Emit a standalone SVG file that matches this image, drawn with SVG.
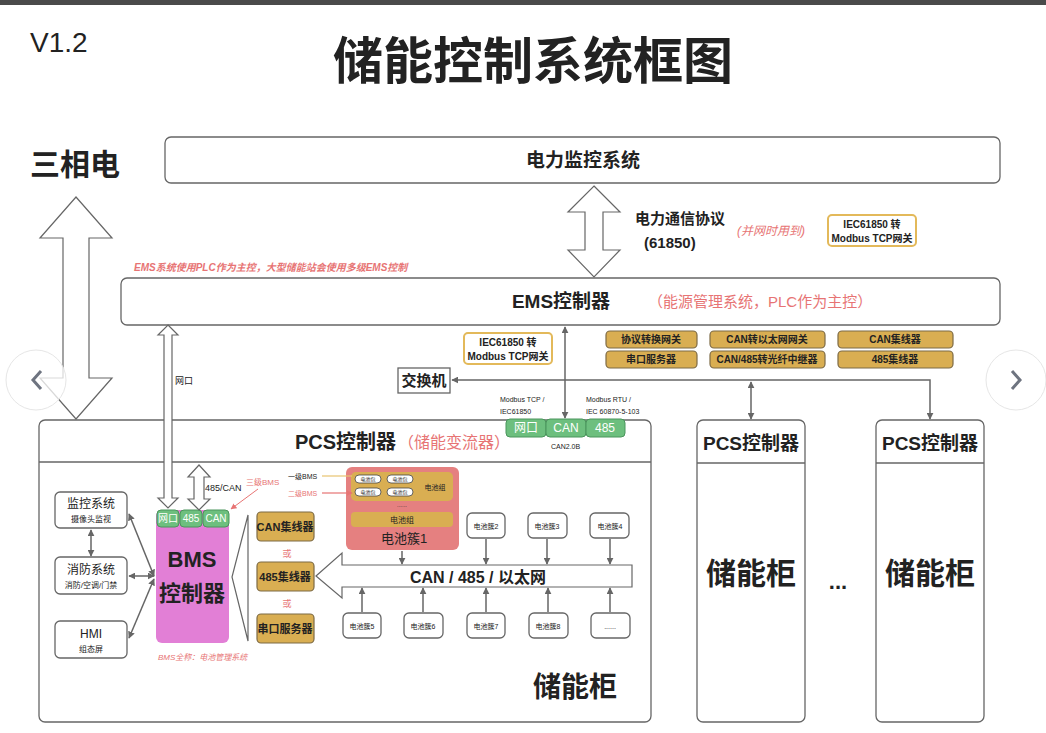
<svg xmlns="http://www.w3.org/2000/svg" width="1046" height="733" viewBox="0 0 1046 733">
<style>
text{font-family:"Liberation Sans","Noto Sans CJK SC",sans-serif;fill:#222}
.b{font-weight:bold}
.red{fill:#e77474}
.it{font-style:italic}
.box{fill:#fff;stroke:#666;stroke-width:1.3}
.gold{fill:#d9ae52;stroke:#7d6a45;stroke-width:1.2}
.green{fill:#6dbf7e;stroke:#4b955c;stroke-width:1}
.hollow{fill:#fff;stroke:#666;stroke-width:1.2}
.ln{stroke:#666;stroke-width:1.5;fill:none}
.tw{fill:#fff}
</style>
<defs>
<marker id="ah" viewBox="0 0 10 10" refX="9" refY="5" markerWidth="7" markerHeight="7" orient="auto-start-reverse" markerUnits="userSpaceOnUse"><path d="M0,0 L10,5 L0,10 z" fill="#666"/></marker>
<marker id="ahr" viewBox="0 0 10 10" refX="9" refY="5" markerWidth="6" markerHeight="6" orient="auto" markerUnits="userSpaceOnUse"><path d="M0,0 L10,5 L0,10 z" fill="#e77474"/></marker>
</defs>
<rect x="0" y="0" width="1046" height="733" fill="#fff"/>
<rect x="0" y="0" width="1046" height="5" fill="#4a4a4a"/>

<g id="header">
<text x="30" y="52" font-size="28" fill="#333">V1.2</text>
<text x="533" y="79" font-size="50" class="b" text-anchor="middle">储能控制系统框图</text>
<text x="30" y="175" font-size="30" class="b">三相电</text>
</g>

<g id="power-monitor">
<rect x="165" y="137" width="835" height="46" rx="6" class="box"/>
<text x="583" y="167" font-size="19" class="b" text-anchor="middle">电力监控系统</text>
</g>

<g id="ems">
<text x="134" y="271" font-size="10" class="red it b">EMS系统使用PLC作为主控，大型储能站会使用多级EMS控制</text>
<rect x="121" y="278" width="879" height="47" rx="6" class="box"/>
<text x="561" y="308" font-size="19" class="b" text-anchor="middle">EMS控制器</text>
<text x="648" y="307" font-size="15" class="red">（能源管理系统，PLC作为主控）</text>
</g>

<g id="protocol">
<text x="635" y="224" font-size="15" class="b">电力通信协议</text>
<text x="644" y="248" font-size="15" class="b">(61850)</text>
<text x="737" y="235" font-size="12" class="red it">(并网时用到)</text>
<rect x="828" y="215" width="88" height="31" rx="4" fill="#fff" stroke="#e3b95a" stroke-width="2"/>
<text x="872" y="228" font-size="10" class="b" text-anchor="middle">IEC61850 转</text>
<text x="872" y="242" font-size="10" class="b" text-anchor="middle">Modbus TCP网关</text>
</g>

<g id="gateways">
<rect x="464" y="333" width="88" height="31" rx="4" fill="#fff" stroke="#e3b95a" stroke-width="2"/>
<text x="508" y="346" font-size="10" class="b" text-anchor="middle">IEC61850 转</text>
<text x="508" y="360" font-size="10" class="b" text-anchor="middle">Modbus TCP网关</text>
<rect x="606" y="331" width="91" height="17" rx="4" class="gold"/>
<text x="651" y="343" font-size="10" class="b" text-anchor="middle">协议转换网关</text>
<rect x="710" y="331" width="115" height="17" rx="4" class="gold"/>
<text x="767" y="343" font-size="10" class="b" text-anchor="middle">CAN转以太网网关</text>
<rect x="838" y="331" width="115" height="17" rx="4" class="gold"/>
<text x="895" y="343" font-size="10" class="b" text-anchor="middle">CAN集线器</text>
<rect x="606" y="351" width="91" height="17" rx="4" class="gold"/>
<text x="651" y="363" font-size="10" class="b" text-anchor="middle">串口服务器</text>
<rect x="710" y="351" width="115" height="17" rx="4" class="gold"/>
<text x="767" y="363" font-size="10" class="b" text-anchor="middle">CAN/485转光纤中继器</text>
<rect x="838" y="351" width="115" height="17" rx="4" class="gold"/>
<text x="895" y="363" font-size="10" class="b" text-anchor="middle">485集线器</text>
</g>

<g id="switch">
<rect x="398" y="368" width="52" height="25" class="box" stroke-width="1.5"/>
<text x="424" y="386" font-size="15" class="b" text-anchor="middle">交换机</text>
</g>

<g id="pcs-main">
<rect x="39" y="420" width="612" height="302" rx="6" class="box"/>
<line x1="39" y1="462" x2="651" y2="462" stroke="#666" stroke-width="1.3"/>
<text x="295" y="449" font-size="20" class="b">PCS控制器</text>
<text x="398" y="448" font-size="16" class="red">（储能变流器）</text>
<rect x="506" y="419" width="40" height="18" rx="4" class="green"/>
<text x="526" y="432" font-size="12" class="tw" text-anchor="middle">网口</text>
<rect x="546" y="419" width="40" height="18" rx="4" class="green"/>
<text x="566" y="432" font-size="12" class="tw" text-anchor="middle">CAN</text>
<rect x="586" y="419" width="39" height="18" rx="4" class="green"/>
<text x="605" y="432" font-size="12" class="tw" text-anchor="middle">485</text>
<text x="500" y="402" font-size="7">Modbus TCP /</text>
<text x="500" y="414" font-size="7">IEC61850</text>
<text x="586" y="402" font-size="7">Modbus RTU /</text>
<text x="586" y="414" font-size="7">IEC 60870-5-103</text>
<text x="551" y="449" font-size="7">CAN2.0B</text>
<text x="575" y="697" font-size="28" class="b" text-anchor="middle">储能柜</text>
</g>

<g id="monitor">
<rect x="55" y="492" width="72" height="36" rx="5" class="box"/>
<text x="91" y="508" font-size="12" text-anchor="middle">监控系统</text>
<text x="91" y="522" font-size="8" text-anchor="middle">摄像头监视</text>
</g>
<g id="fire">
<rect x="55" y="557" width="72" height="37" rx="5" class="box"/>
<text x="91" y="574" font-size="12" text-anchor="middle">消防系统</text>
<text x="91" y="588" font-size="8" text-anchor="middle">消防/空调/门禁</text>
</g>
<g id="hmi">
<rect x="55" y="621" width="72" height="37" rx="5" class="box"/>
<text x="91" y="638" font-size="12" text-anchor="middle">HMI</text>
<text x="91" y="652" font-size="8" text-anchor="middle">组态屏</text>
</g>

<g id="bms">
<rect x="156" y="510" width="73" height="133" rx="6" fill="#e27fd6"/>
<rect x="157" y="510" width="22" height="17" rx="4" class="green"/>
<text x="168" y="522" font-size="10" class="tw" text-anchor="middle">网口</text>
<rect x="180" y="510" width="22" height="17" rx="4" class="green"/>
<text x="191" y="522" font-size="10" class="tw" text-anchor="middle">485</text>
<rect x="203" y="510" width="26" height="17" rx="4" class="green"/>
<text x="216" y="522" font-size="10" class="tw" text-anchor="middle">CAN</text>
<text x="192" y="567" font-size="22" class="b" text-anchor="middle">BMS</text>
<text x="192" y="601" font-size="22" class="b" text-anchor="middle">控制器</text>
<text x="158" y="660" font-size="8" class="red it">BMS全称：电池管理系统</text>
<text x="246" y="485" font-size="8" class="red">三级BMS</text>
</g>

<g id="hubs">
<rect x="257" y="512" width="57" height="29" rx="4" class="gold"/>
<text x="285" y="531" font-size="11" class="b" text-anchor="middle">CAN集线器</text>
<text x="287" y="557" font-size="9" class="red" text-anchor="middle">或</text>
<rect x="257" y="562" width="57" height="29" rx="4" class="gold"/>
<text x="285" y="581" font-size="11" class="b" text-anchor="middle">485集线器</text>
<text x="287" y="607" font-size="9" class="red" text-anchor="middle">或</text>
<rect x="257" y="614" width="57" height="29" rx="4" class="gold"/>
<text x="285" y="633" font-size="11" class="b" text-anchor="middle">串口服务器</text>
</g>

<g id="cluster1">
<rect x="346" y="467" width="113" height="83" rx="6" fill="#e58080"/>
<rect x="351" y="472" width="102" height="29" rx="5" fill="#d9ae52"/>
<rect x="355" y="475" width="26" height="8" rx="4" fill="#fff" stroke="#444" stroke-width="0.8"/>
<rect x="387" y="475" width="26" height="8" rx="4" fill="#fff" stroke="#444" stroke-width="0.8"/>
<rect x="355" y="488" width="26" height="8" rx="4" fill="#fff" stroke="#444" stroke-width="0.8"/>
<rect x="387" y="488" width="26" height="8" rx="4" fill="#fff" stroke="#444" stroke-width="0.8"/>
<text x="368" y="481" font-size="5" text-anchor="middle">电池包</text>
<text x="400" y="481" font-size="5" text-anchor="middle">电池包</text>
<text x="368" y="494" font-size="5" text-anchor="middle">电池包</text>
<text x="400" y="494" font-size="5" text-anchor="middle">电池包</text>
<text x="435" y="490" font-size="7" text-anchor="middle">电池组</text>
<text x="402" y="507" font-size="6" text-anchor="middle">......</text>
<rect x="351" y="512" width="102" height="15" rx="4" fill="#d9ae52"/>
<text x="402" y="523" font-size="8" text-anchor="middle">电池组</text>
<text x="404" y="543" font-size="13" text-anchor="middle">电池簇1</text>
<text x="288" y="479" font-size="7" fill="#d9ae52">一级BMS</text>
<line x1="322" y1="476" x2="352" y2="476" stroke="#e8c470" stroke-width="1.2"/>
<text x="288" y="496" font-size="7" class="red">二级BMS</text>
<line x1="322" y1="493" x2="352" y2="493" stroke="#e77474" stroke-width="1.2" marker-end="url(#ahr)"/>
</g>

<g id="clusters">
<rect x="467" y="513" width="38" height="25" rx="5" class="box"/>
<text x="486" y="529" font-size="7" text-anchor="middle">电池簇2</text>
<rect x="528" y="513" width="39" height="25" rx="5" class="box"/>
<text x="547" y="529" font-size="7" text-anchor="middle">电池簇3</text>
<rect x="590" y="513" width="39" height="25" rx="5" class="box"/>
<text x="610" y="529" font-size="7" text-anchor="middle">电池簇4</text>
<rect x="343" y="613" width="38" height="25" rx="5" class="box"/>
<text x="362" y="629" font-size="7" text-anchor="middle">电池簇5</text>
<rect x="404" y="613" width="39" height="25" rx="5" class="box"/>
<text x="423" y="629" font-size="7" text-anchor="middle">电池簇6</text>
<rect x="467" y="613" width="38" height="25" rx="5" class="box"/>
<text x="486" y="629" font-size="7" text-anchor="middle">电池簇7</text>
<rect x="529" y="613" width="39" height="25" rx="5" class="box"/>
<text x="548" y="629" font-size="7" text-anchor="middle">电池簇8</text>
<rect x="591" y="613" width="39" height="25" rx="5" class="box"/>
<text x="610" y="629" font-size="7" text-anchor="middle">......</text>
</g>

<g id="pcs2">
<rect x="697" y="420" width="108" height="302" rx="6" class="box"/>
<line x1="697" y1="463" x2="805" y2="463" stroke="#666" stroke-width="1.3"/>
<text x="751" y="450" font-size="19" class="b" text-anchor="middle">PCS控制器</text>
<text x="751" y="584" font-size="30" class="b" text-anchor="middle">储能柜</text>
</g>
<text x="838" y="589" font-size="22" class="b" text-anchor="middle">...</text>
<g id="pcs3">
<rect x="876" y="420" width="108" height="302" rx="6" class="box"/>
<line x1="876" y1="463" x2="984" y2="463" stroke="#666" stroke-width="1.3"/>
<text x="930" y="450" font-size="19" class="b" text-anchor="middle">PCS控制器</text>
<text x="930" y="584" font-size="30" class="b" text-anchor="middle">储能柜</text>
</g>

<g id="connectors">
<path class="hollow" d="M76,197 L112,238 L89,238 L89,378 L112,378 L76,419 L40,378 L63,378 L63,238 L40,238 Z"/>
<path class="hollow" d="M594,186 L620,212 L603,212 L603,250 L620,250 L594,277 L568,250 L585,250 L585,212 L568,212 Z"/>
<path class="hollow" d="M168,325 L178,335 L172,335 L172,498 L178,498 L168,508 L158,498 L164,498 L164,335 L158,335 Z"/>
<text x="175" y="384" font-size="9">网口</text>
<path class="hollow" d="M199,465 L210,477 L204,477 L204,499 L210,499 L199,510 L188,499 L194,499 L194,477 L188,477 Z"/>
<text x="205" y="491" font-size="9">485/CAN</text>
<line x1="258" y1="489" x2="231" y2="509" stroke="#e77474" stroke-width="1" marker-end="url(#ahr)"/>
<path class="hollow" d="M316,576 L342,553 L342,565 L632,565 L632,587 L342,587 L342,598 Z"/>
<text x="478" y="583" font-size="16" class="b" text-anchor="middle">CAN / 485 / 以太网</text>
<path d="M248,515 L232,577 L248,641 Z" fill="none" stroke="#666" stroke-width="1.2"/>
<line class="ln" x1="565" y1="327" x2="565" y2="418" marker-start="url(#ah)" marker-end="url(#ah)"/>
<polyline class="ln" points="930,419 930,380 452,380" marker-start="url(#ah)" marker-end="url(#ah)"/>
<line class="ln" x1="751" y1="382" x2="751" y2="419" marker-start="url(#ah)" marker-end="url(#ah)"/>
<line class="ln" x1="91" y1="530" x2="91" y2="556" marker-start="url(#ah)" marker-end="url(#ah)"/>
<line class="ln" x1="129" y1="514" x2="154" y2="576" marker-start="url(#ah)" marker-end="url(#ah)"/>
<line class="ln" x1="129" y1="576" x2="154" y2="576" marker-start="url(#ah)" marker-end="url(#ah)"/>
<line class="ln" x1="129" y1="638" x2="154" y2="579" marker-start="url(#ah)" marker-end="url(#ah)"/>
<line class="ln" x1="402" y1="551" x2="402" y2="564" marker-end="url(#ah)"/>
<line class="ln" x1="486" y1="539" x2="486" y2="564" marker-end="url(#ah)"/>
<line class="ln" x1="547" y1="539" x2="547" y2="564" marker-end="url(#ah)"/>
<line class="ln" x1="610" y1="539" x2="610" y2="564" marker-end="url(#ah)"/>
<line class="ln" x1="362" y1="612" x2="362" y2="588" marker-end="url(#ah)"/>
<line class="ln" x1="423" y1="612" x2="423" y2="588" marker-end="url(#ah)"/>
<line class="ln" x1="486" y1="612" x2="486" y2="588" marker-end="url(#ah)"/>
<line class="ln" x1="548" y1="612" x2="548" y2="588" marker-end="url(#ah)"/>
<line class="ln" x1="610" y1="612" x2="610" y2="588" marker-end="url(#ah)"/>
</g>

<g id="nav">
<circle cx="36" cy="380" r="30" fill="#fff" fill-opacity="0.75" stroke="#e6e6e6"/>
<polyline points="41,371 33,380 41,389" fill="none" stroke="#6e7480" stroke-width="3"/>
<circle cx="1016" cy="380" r="30" fill="#fff" fill-opacity="0.75" stroke="#e6e6e6"/>
<polyline points="1012,371 1020,380 1012,389" fill="none" stroke="#6e7480" stroke-width="3"/>
</g>
</svg>
